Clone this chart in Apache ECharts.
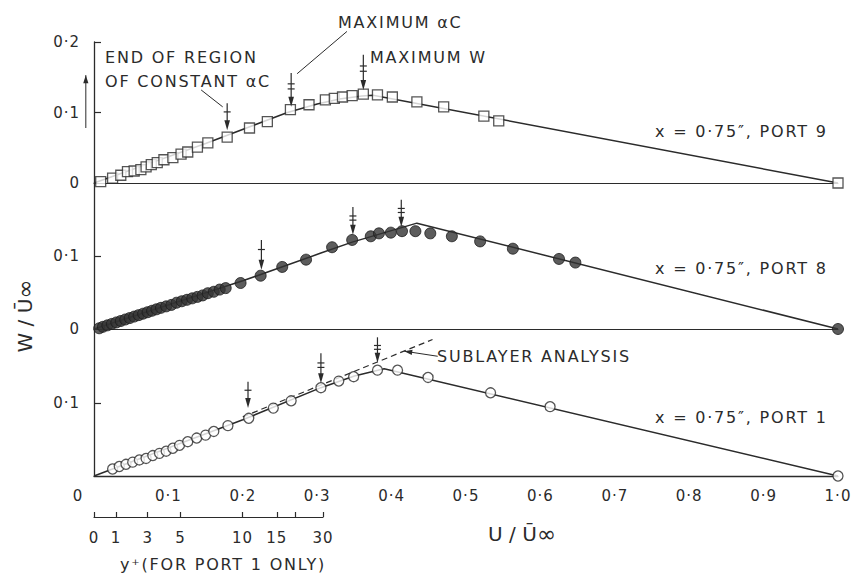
<!DOCTYPE html>
<html><head><meta charset="utf-8">
<script src="https://cdn.jsdelivr.net/npm/echarts@6/dist/echarts.min.js"></script>
<style>
html,body{margin:0;padding:0;background:#fff;}
#c{width:856px;height:573px;}
#c text[style*="16px"]{letter-spacing:1.8px;}
#c text[style*="15px"]{letter-spacing:1px;}
</style></head><body><div id="c"></div>
<script>
// ---------- data ----------
const xTicks = [0,0.1,0.2,0.3,0.4,0.5,0.6,0.7,0.8,0.9,1.0];

// Port 9 (open squares), top panel
const port9U = [0.009,0.025,0.036,0.045,0.054,0.063,0.070,0.077,0.085,0.094,0.106,0.117,0.126,0.139,0.153,0.179,0.209,0.233,0.264,0.289,0.311,0.323,0.334,0.347,0.362,0.381,0.401,0.434,0.470,0.524,0.544,1.0];
const port9W = [0.002,0.007,0.011,0.016,0.017,0.019,0.023,0.026,0.029,0.033,0.036,0.041,0.044,0.051,0.057,0.065,0.078,0.087,0.104,0.111,0.118,0.120,0.122,0.124,0.126,0.125,0.122,0.115,0.108,0.095,0.088,0.0];
const fit9 = [[0,0],[0.15,0.056],[0.26,0.100],[0.30,0.112],[0.33,0.119],[0.36,0.1235],[0.375,0.1245],[1.0,0]];

// Port 8 (filled circles), middle panel
const port8U = [0.007,0.012,0.018,0.024,0.030,0.036,0.042,0.048,0.054,0.060,0.066,0.072,0.078,0.084,0.090,0.097,0.104,0.111,0.118,0.125,0.132,0.139,0.146,0.153,0.161,0.169,0.177,0.197,0.224,0.253,0.285,0.320,0.347,0.372,0.383,0.399,0.414,0.432,0.452,0.481,0.519,0.563,0.625,0.647,1.0];
const port8W = [0.001,0.003,0.005,0.007,0.009,0.011,0.013,0.015,0.017,0.019,0.021,0.023,0.025,0.027,0.029,0.031,0.033,0.036,0.038,0.040,0.042,0.044,0.046,0.049,0.051,0.054,0.056,0.063,0.073,0.085,0.095,0.112,0.122,0.127,0.131,0.132,0.134,0.134,0.131,0.127,0.120,0.110,0.096,0.091,0.0];
const fit8 = [[0,0],[0.2,0.066],[0.305,0.104],[0.347,0.119],[0.434,0.145],[1.0,0]];

// Port 1 (open circles), bottom panel
const port1U = [0.025,0.034,0.043,0.052,0.061,0.070,0.079,0.088,0.097,0.106,0.115,0.126,0.138,0.150,0.161,0.180,0.208,0.241,0.265,0.305,0.329,0.349,0.381,0.408,0.449,0.533,0.613,1.0];
const port1W = [0.0096,0.013,0.016,0.019,0.022,0.024,0.028,0.031,0.034,0.038,0.042,0.047,0.052,0.056,0.061,0.069,0.079,0.093,0.103,0.121,0.130,0.136,0.145,0.145,0.135,0.114,0.095,0.0];
const fit1 = [[0,0],[0.2,0.077],[0.305,0.121],[0.35,0.137],[0.39,0.147],[1.0,0]];
const sublayer1 = [[0.2,0.081],[0.455,0.187]];

// marker arrows: [u, wTop, wTip, crossbars]
const arrows9 = [[0.179,0.113,0.075,1],[0.265,0.156,0.108,2],[0.362,0.182,0.132,2]];
const arrows8 = [[0.225,0.122,0.081,1],[0.348,0.167,0.129,2],[0.413,0.177,0.140,2]];
const arrows1 = [[0.207,0.129,0.093,1],[0.305,0.168,0.127,2],[0.381,0.190,0.155,2]];
// leader lines: [u1, w1, u2, w2, arrowhead]
const leaders9 = [[0.144,0.132,0.173,0.108,0],[0.340,0.215,0.273,0.155,0],[-0.011,0.078,-0.011,0.153,1]];
const leaders1 = [[0.462,0.164,0.417,0.171,1]];

// y+ auxiliary scale (port 1 only)
const yPlusTicks = [0,1,3,5,10,15,20,30];
const yPlusPos = [0,0.0295,0.072,0.116,0.199,0.245,0.270,0.307];
const yPlusLabelled = [0,1,3,5,10,15,30];

// ---------- chart ----------
const INK = '#2b2b2b';
const FONT = 'DejaVu Sans';
const zip = (a,b) => a.map((v,i)=>[v,b[i]]);
const fmt = v => (Math.abs(v) < 1e-9 ? '0' : v.toFixed(1).replace('.', '\u00b7'));

function arrowItem(params, api){
  const top = api.coord([api.value(0), api.value(1)]);
  const tip = api.coord([api.value(0), api.value(2)]);
  const n = api.value(3);
  const len = tip[1]-top[1];
  const ch = [
    {type:'line', shape:{x1:top[0],y1:top[1],x2:tip[0],y2:tip[1]-6}, style:{stroke:INK,lineWidth:1.2}},
    {type:'polygon', shape:{points:[[tip[0],tip[1]],[tip[0]-2.8,tip[1]-10],[tip[0]+2.8,tip[1]-10]]}, style:{fill:INK}}
  ];
  for(let k=0;k<n;k++){
    const y = top[1] + len*(0.32 + 0.15*k);
    ch.push({type:'line', shape:{x1:top[0]-3.5,y1:y,x2:top[0]+3.5,y2:y}, style:{stroke:INK,lineWidth:1.2}});
  }
  return {type:'group', children:ch};
}
function leaderItem(params, api){
  const p1 = api.coord([api.value(0), api.value(1)]);
  const p2 = api.coord([api.value(2), api.value(3)]);
  const ch = [{type:'line', shape:{x1:p1[0],y1:p1[1],x2:p2[0],y2:p2[1]}, style:{stroke:INK,lineWidth:1}}];
  if(api.value(4)){
    const a = Math.atan2(p2[1]-p1[1], p2[0]-p1[0]);
    const L = 8, W = 2.6;
    const bx = p2[0]-L*Math.cos(a), by = p2[1]-L*Math.sin(a);
    ch.push({type:'polygon', shape:{points:[[p2[0],p2[1]],[bx - W*Math.sin(a), by + W*Math.cos(a)],[bx + W*Math.sin(a), by - W*Math.cos(a)]]}, style:{fill:INK}});
  }
  return {type:'group', children:ch};
}

const chart = echarts.init(document.getElementById('c'), null, {renderer:'svg'});

const gridL = 94, gridR = 18;
const baseX = (i, extra) => Object.assign({
  type:'value', gridIndex:i, min:0, max:1, interval:0.1,
  axisLine:{show:true, onZero:false, lineStyle:{color:INK, width:1}},
  axisTick:{show:false}, axisLabel:{show:false}, splitLine:{show:false}
}, extra||{});
const baseY = (i, labels, ticks) => ({
  type:'value', gridIndex:i, min:0, max:0.2, interval:0.1,
  axisLine:{show:true, lineStyle:{color:INK, width:1.3}},
  axisTick:{show:true, inside:true, length:7, customValues:ticks, lineStyle:{color:INK,width:1.2}},
  axisLabel:{show:true, customValues:labels, formatter:fmt, fontSize:15, fontFamily:FONT, color:INK, margin:14},
  splitLine:{show:false}
});

const scatterBase = {type:'scatter', clip:false, z:5};
const nameRich = {
  a:{fontSize:20, fontFamily:FONT, fill:INK, color:INK},
  b:{fontSize:23, fontFamily:FONT, color:INK, fill:INK, verticalAlign:'bottom'}
};

chart.setOption({
  animation:false,
  backgroundColor:'#fff',
  textStyle:{fontFamily:FONT, color:INK},
  grid:[
    {left:gridL, right:gridR, top:42, height:141},
    {left:gridL, right:gridR, top:183, height:146},
    {left:gridL, right:gridR, top:330, height:146},
    {left:gridL, width:229, top:516, height:1}
  ],
  xAxis:[
    baseX(0),
    baseX(1),
    baseX(2, {
      axisLine:{show:true, onZero:false, lineStyle:{color:INK, width:1.3}},
      axisLabel:{show:true, fontSize:15, fontFamily:FONT, color:INK, margin:12,
        formatter: v => (Math.abs(v)<1e-9 ? '{z|0}' : fmt(v)),
        rich:{z:{fontSize:15, fontFamily:FONT, color:INK, padding:[0,32,0,0]}}}
    }),
    {type:'value', gridIndex:3, min:0, max:yPlusPos[yPlusPos.length-1],
      axisLine:{show:true, lineStyle:{color:INK, width:1.2}},
      axisTick:{show:true, inside:true, length:5, customValues:yPlusPos, lineStyle:{color:INK,width:1.2}},
      axisLabel:{show:true, customValues:yPlusLabelled.map(t=>yPlusPos[yPlusTicks.indexOf(t)]),
        formatter: v => { let best=0; yPlusPos.forEach((p,i)=>{ if(Math.abs(p-v)<Math.abs(yPlusPos[best]-v)) best=i; }); return String(yPlusTicks[best]); },
        fontSize:15, fontFamily:FONT, color:INK, margin:13},
      splitLine:{show:false}}
  ],
  yAxis:[
    baseY(0, [0,0.1,0.2], [0.1,0.2]),
    baseY(1, [0,0.1], [0.1]),
    baseY(2, [0.1], [0.1]),
    {type:'value', gridIndex:3, show:false}
  ],
  series:[
    // fitted curves
    {type:'line', xAxisIndex:0, yAxisIndex:0, data:fit9, showSymbol:false, lineStyle:{color:INK,width:1.5}, z:3},
    {type:'line', xAxisIndex:1, yAxisIndex:1, data:fit8, showSymbol:false, lineStyle:{color:INK,width:1.5}, z:3},
    {type:'line', xAxisIndex:2, yAxisIndex:2, data:fit1, showSymbol:false, lineStyle:{color:INK,width:1.5}, z:3},
    {type:'line', xAxisIndex:2, yAxisIndex:2, data:sublayer1, showSymbol:false, clip:false, lineStyle:{color:INK,width:1.2,type:[6,4]}, z:3},
    // data points
    Object.assign({}, scatterBase, {xAxisIndex:0, yAxisIndex:0, data:zip(port9U,port9W), symbol:'rect', symbolSize:10,
      itemStyle:{color:'#fff', borderColor:INK, borderWidth:1.3}}),
    Object.assign({}, scatterBase, {xAxisIndex:1, yAxisIndex:1, data:zip(port8U,port8W), symbol:'circle', symbolSize:11,
      itemStyle:{color:'#333', borderColor:'#1c1c1c', borderWidth:1}}),
    Object.assign({}, scatterBase, {xAxisIndex:2, yAxisIndex:2, data:zip(port1U,port1W), symbol:'circle', symbolSize:10,
      itemStyle:{color:'#fff', borderColor:INK, borderWidth:1.3}}),
    // marker arrows
    {type:'custom', xAxisIndex:0, yAxisIndex:0, data:arrows9, renderItem:arrowItem, clip:false, encode:{x:0,y:[1,2]}, z:6},
    {type:'custom', xAxisIndex:1, yAxisIndex:1, data:arrows8, renderItem:arrowItem, clip:false, encode:{x:0,y:[1,2]}, z:6},
    {type:'custom', xAxisIndex:2, yAxisIndex:2, data:arrows1, renderItem:arrowItem, clip:false, encode:{x:0,y:[1,2]}, z:6},
    // leader lines
    {type:'custom', xAxisIndex:0, yAxisIndex:0, data:leaders9, renderItem:leaderItem, clip:false, encode:{x:[0,2],y:[1,3]}, z:6},
    {type:'custom', xAxisIndex:2, yAxisIndex:2, data:leaders1, renderItem:leaderItem, clip:false, encode:{x:[0,2],y:[1,3]}, z:6}
  ],
  graphic:[
    {type:'text', x:105, y:57, style:{text:'END OF REGION', fontSize:16, fontFamily:FONT, fill:INK, align:'left', verticalAlign:'middle'}},
    {type:'text', x:105, y:81, style:{text:'OF CONSTANT \u03b1C', fontSize:16, fontFamily:FONT, fill:INK, align:'left', verticalAlign:'middle'}},
    {type:'text', x:338, y:22, style:{text:'MAXIMUM \u03b1C', fontSize:16, fontFamily:FONT, fill:INK, align:'left', verticalAlign:'middle'}},
    {type:'text', x:370, y:57, style:{text:'MAXIMUM W', fontSize:16, fontFamily:FONT, fill:INK, align:'left', verticalAlign:'middle'}},
    {type:'text', x:655, y:131, style:{text:'x = 0\u00b775\u2033, PORT 9', fontSize:16, fontFamily:FONT, fill:INK, align:'left', verticalAlign:'middle'}},
    {type:'text', x:655, y:268, style:{text:'x = 0\u00b775\u2033, PORT 8', fontSize:16, fontFamily:FONT, fill:INK, align:'left', verticalAlign:'middle'}},
    {type:'text', x:437, y:356, style:{text:'SUBLAYER ANALYSIS', fontSize:16, fontFamily:FONT, fill:INK, align:'left', verticalAlign:'middle'}},
    {type:'text', x:655, y:417, style:{text:'x = 0\u00b775\u2033, PORT 1', fontSize:16, fontFamily:FONT, fill:INK, align:'left', verticalAlign:'middle'}},
    {type:'text', x:120, y:564, style:{text:'y\u207a(FOR PORT 1 ONLY)', fontSize:16, fontFamily:FONT, fill:INK, align:'left', verticalAlign:'middle'}},
    {type:'text', x:522, y:534, style:{text:'{a|U / \u016a}{b|\u221e}', align:'center', verticalAlign:'middle', rich:nameRich}},
    {type:'text', x:25, y:316, rotation:Math.PI/2, style:{text:'{a|W / \u016a}{b|\u221e}', align:'center', verticalAlign:'middle', rich:nameRich}}
  ]
});
</script></body></html>
